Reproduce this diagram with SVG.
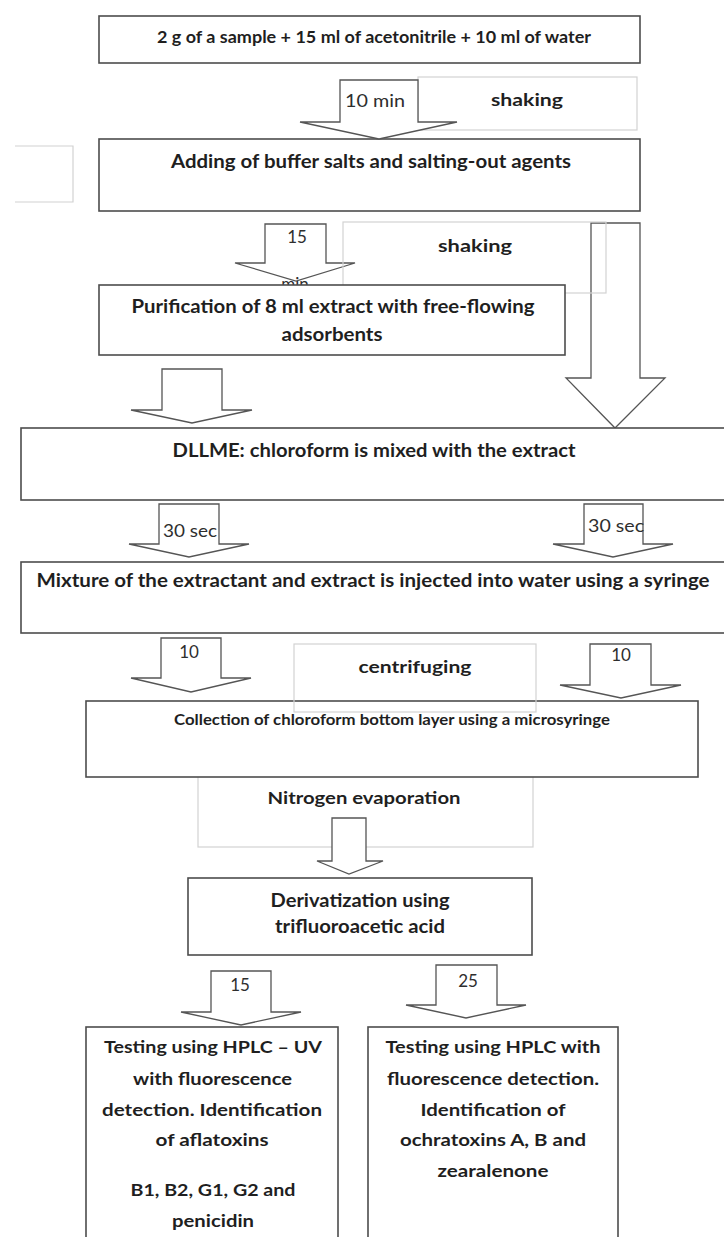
<svg xmlns="http://www.w3.org/2000/svg" width="724" height="1237" viewBox="0 0 724 1237">
<style>
  .box { fill: #ffffff; stroke: #4d4d4d; stroke-width: 1.6; }
  .lite { fill: none; stroke: #d2d2d2; stroke-width: 1.2; }
  .arr { fill: #ffffff; stroke: #555555; stroke-width: 1.3; stroke-linejoin: miter; }
  .t { font-family: Lato, "Liberation Sans", sans-serif; font-weight: bold; fill: #1f1f1f; text-anchor: middle; }
  .n { font-family: Lato, "Liberation Sans", sans-serif; font-weight: normal; fill: #2e2e2e; font-size: 17px; }
</style>
<rect width="724" height="1237" fill="#ffffff"/>

<g id="note-left-blank">
  <path class="lite" d="M15,146 H73 V202 H15"/>
</g>

<g id="note-shaking-1">
  <rect class="lite" x="418" y="77" width="219" height="53"/>
  <text class="t" x="527" y="106" font-size="17" textLength="72" lengthAdjust="spacingAndGlyphs">shaking</text>
</g>

<g id="node-sample">
  <rect class="box" x="99" y="16" width="541" height="47"/>
  <text class="t" x="374" y="43" font-size="17" textLength="434" lengthAdjust="spacingAndGlyphs">2 g of a sample + 15 ml of acetonitrile + 10 ml of water</text>
</g>

<g id="node-buffer">
  <rect class="box" x="99" y="139" width="541" height="72"/>
  <text class="t" x="371" y="168" font-size="19" textLength="400" lengthAdjust="spacingAndGlyphs">Adding of buffer salts and salting-out agents</text>
</g>

<g id="connectors">
  <polygon class="arr" points="340,80 418,80 418,122 457,122 379,139 300,122 340,122"/>
  <text class="n" x="345" y="107" textLength="60" lengthAdjust="spacingAndGlyphs">10 min</text>

  <polygon class="arr" points="265,224 326,224 326,263 355,263 296,281 235,263 265,263"/>
  <text class="n" x="297" y="243" text-anchor="middle">15</text>
  <text class="n" x="295" y="290" text-anchor="middle">min</text>

  <polygon class="arr" points="591,223 640,223 640,378 665,378 615,428 566,378 591,378"/>
</g>

<g id="note-shaking-2">
  <rect class="lite" x="343" y="222" width="263" height="71"/>
  <text class="t" x="475" y="252" font-size="17" textLength="74" lengthAdjust="spacingAndGlyphs">shaking</text>
</g>

<g id="node-purification">
  <rect class="box" x="99" y="285" width="466" height="70"/>
  <text class="t" x="333" y="313" font-size="19" textLength="403" lengthAdjust="spacingAndGlyphs">Purification of 8 ml extract with free-flowing</text>
  <text class="t" x="332" y="341" font-size="19" textLength="101" lengthAdjust="spacingAndGlyphs">adsorbents</text>
</g>

<g id="connectors-2">
  <polygon class="arr" points="162,369 222,369 222,410 252,410 192,423 131,410 162,410"/>
</g>

<g id="node-dllme">
  <rect class="box" x="21" y="428" width="712" height="72"/>
  <text class="t" x="374" y="457" font-size="18" textLength="403" lengthAdjust="spacingAndGlyphs">DLLME: chloroform is mixed with the extract</text>
</g>

<g id="connectors-3">
  <polygon class="arr" points="159,504 219,504 219,544 249,544 189,557 129,544 159,544"/>
  <text class="n" x="163" y="537" textLength="54" lengthAdjust="spacingAndGlyphs">30 sec</text>
  <polygon class="arr" points="584,504 643,504 643,544 673,544 613,557 553,544 584,544"/>
  <text class="n" x="588" y="532" textLength="56" lengthAdjust="spacingAndGlyphs">30 sec</text>
</g>

<g id="node-mixture">
  <rect class="box" x="21" y="562" width="712" height="71"/>
  <text class="t" x="373" y="587" font-size="19" textLength="673" lengthAdjust="spacingAndGlyphs">Mixture of the extractant and extract is injected into water using a syringe</text>
</g>

<g id="connectors-4">
  <polygon class="arr" points="161,638 221,638 221,678 251,678 191,692 131,678 161,678"/>
  <text class="n" x="189" y="658" text-anchor="middle">10</text>
  <polygon class="arr" points="590,644 651,644 651,685 681,685 621,698 560,685 590,685"/>
  <text class="n" x="621" y="661" text-anchor="middle">10</text>
</g>

<g id="note-nitrogen">
  <rect class="lite" x="198" y="760" width="335" height="87"/>
  <text class="t" x="364" y="804" font-size="17" textLength="193" lengthAdjust="spacingAndGlyphs">Nitrogen evaporation</text>
</g>

<g id="node-collection">
  <rect class="box" x="86" y="701" width="612" height="76"/>
  <text class="t" x="392" y="725" font-size="15" textLength="436" lengthAdjust="spacingAndGlyphs">Collection of chloroform bottom layer using a microsyringe</text>
</g>

<g id="note-centrifuging">
  <rect class="lite" x="294" y="644" width="242" height="68"/>
  <text class="t" x="415" y="673" font-size="17" textLength="113" lengthAdjust="spacingAndGlyphs">centrifuging</text>
</g>

<g id="connectors-5">
  <polygon class="arr" points="332,818 366,818 366,861 383,861 349,874 317,861 332,861"/>
</g>

<g id="node-derivatization">
  <rect class="box" x="188" y="878" width="344" height="77"/>
  <text class="t" x="360" y="907" font-size="18" textLength="179" lengthAdjust="spacingAndGlyphs">Derivatization using</text>
  <text class="t" x="360" y="933" font-size="18" textLength="170" lengthAdjust="spacingAndGlyphs">trifluoroacetic acid</text>
</g>

<g id="connectors-6">
  <polygon class="arr" points="211,971 271,971 271,1012 301,1012 241,1025 181,1012 211,1012"/>
  <text class="n" x="240" y="991" text-anchor="middle">15</text>
  <polygon class="arr" points="436,965 497,965 497,1005 526,1005 466,1018 406,1005 436,1005"/>
  <text class="n" x="468" y="987" text-anchor="middle">25</text>
</g>

<g id="node-hplc-uv">
  <rect class="box" x="86" y="1027" width="252" height="220"/>
  <text class="t" x="213" y="1053" font-size="17" textLength="218" lengthAdjust="spacingAndGlyphs">Testing using HPLC – UV</text>
  <text class="t" x="212.5" y="1085" font-size="17" textLength="159" lengthAdjust="spacingAndGlyphs">with fluorescence</text>
  <text class="t" x="212" y="1116" font-size="17" textLength="220" lengthAdjust="spacingAndGlyphs">detection. Identification</text>
  <text class="t" x="212" y="1146" font-size="17" textLength="113" lengthAdjust="spacingAndGlyphs">of aflatoxins</text>
  <text class="t" x="213" y="1196" font-size="17" textLength="165" lengthAdjust="spacingAndGlyphs">B1, B2, G1, G2 and</text>
  <text class="t" x="213" y="1227" font-size="17" textLength="82" lengthAdjust="spacingAndGlyphs">penicidin</text>
</g>

<g id="node-hplc-fl">
  <rect class="box" x="368" y="1027" width="250" height="220"/>
  <text class="t" x="493" y="1053" font-size="17" textLength="215" lengthAdjust="spacingAndGlyphs">Testing using HPLC with</text>
  <text class="t" x="493" y="1085" font-size="17" textLength="212" lengthAdjust="spacingAndGlyphs">fluorescence detection.</text>
  <text class="t" x="493" y="1116" font-size="17" textLength="145" lengthAdjust="spacingAndGlyphs">Identification of</text>
  <text class="t" x="493" y="1146" font-size="17" textLength="186" lengthAdjust="spacingAndGlyphs">ochratoxins A, B and</text>
  <text class="t" x="493" y="1177" font-size="17" textLength="111" lengthAdjust="spacingAndGlyphs">zearalenone</text>
</g>
</svg>
